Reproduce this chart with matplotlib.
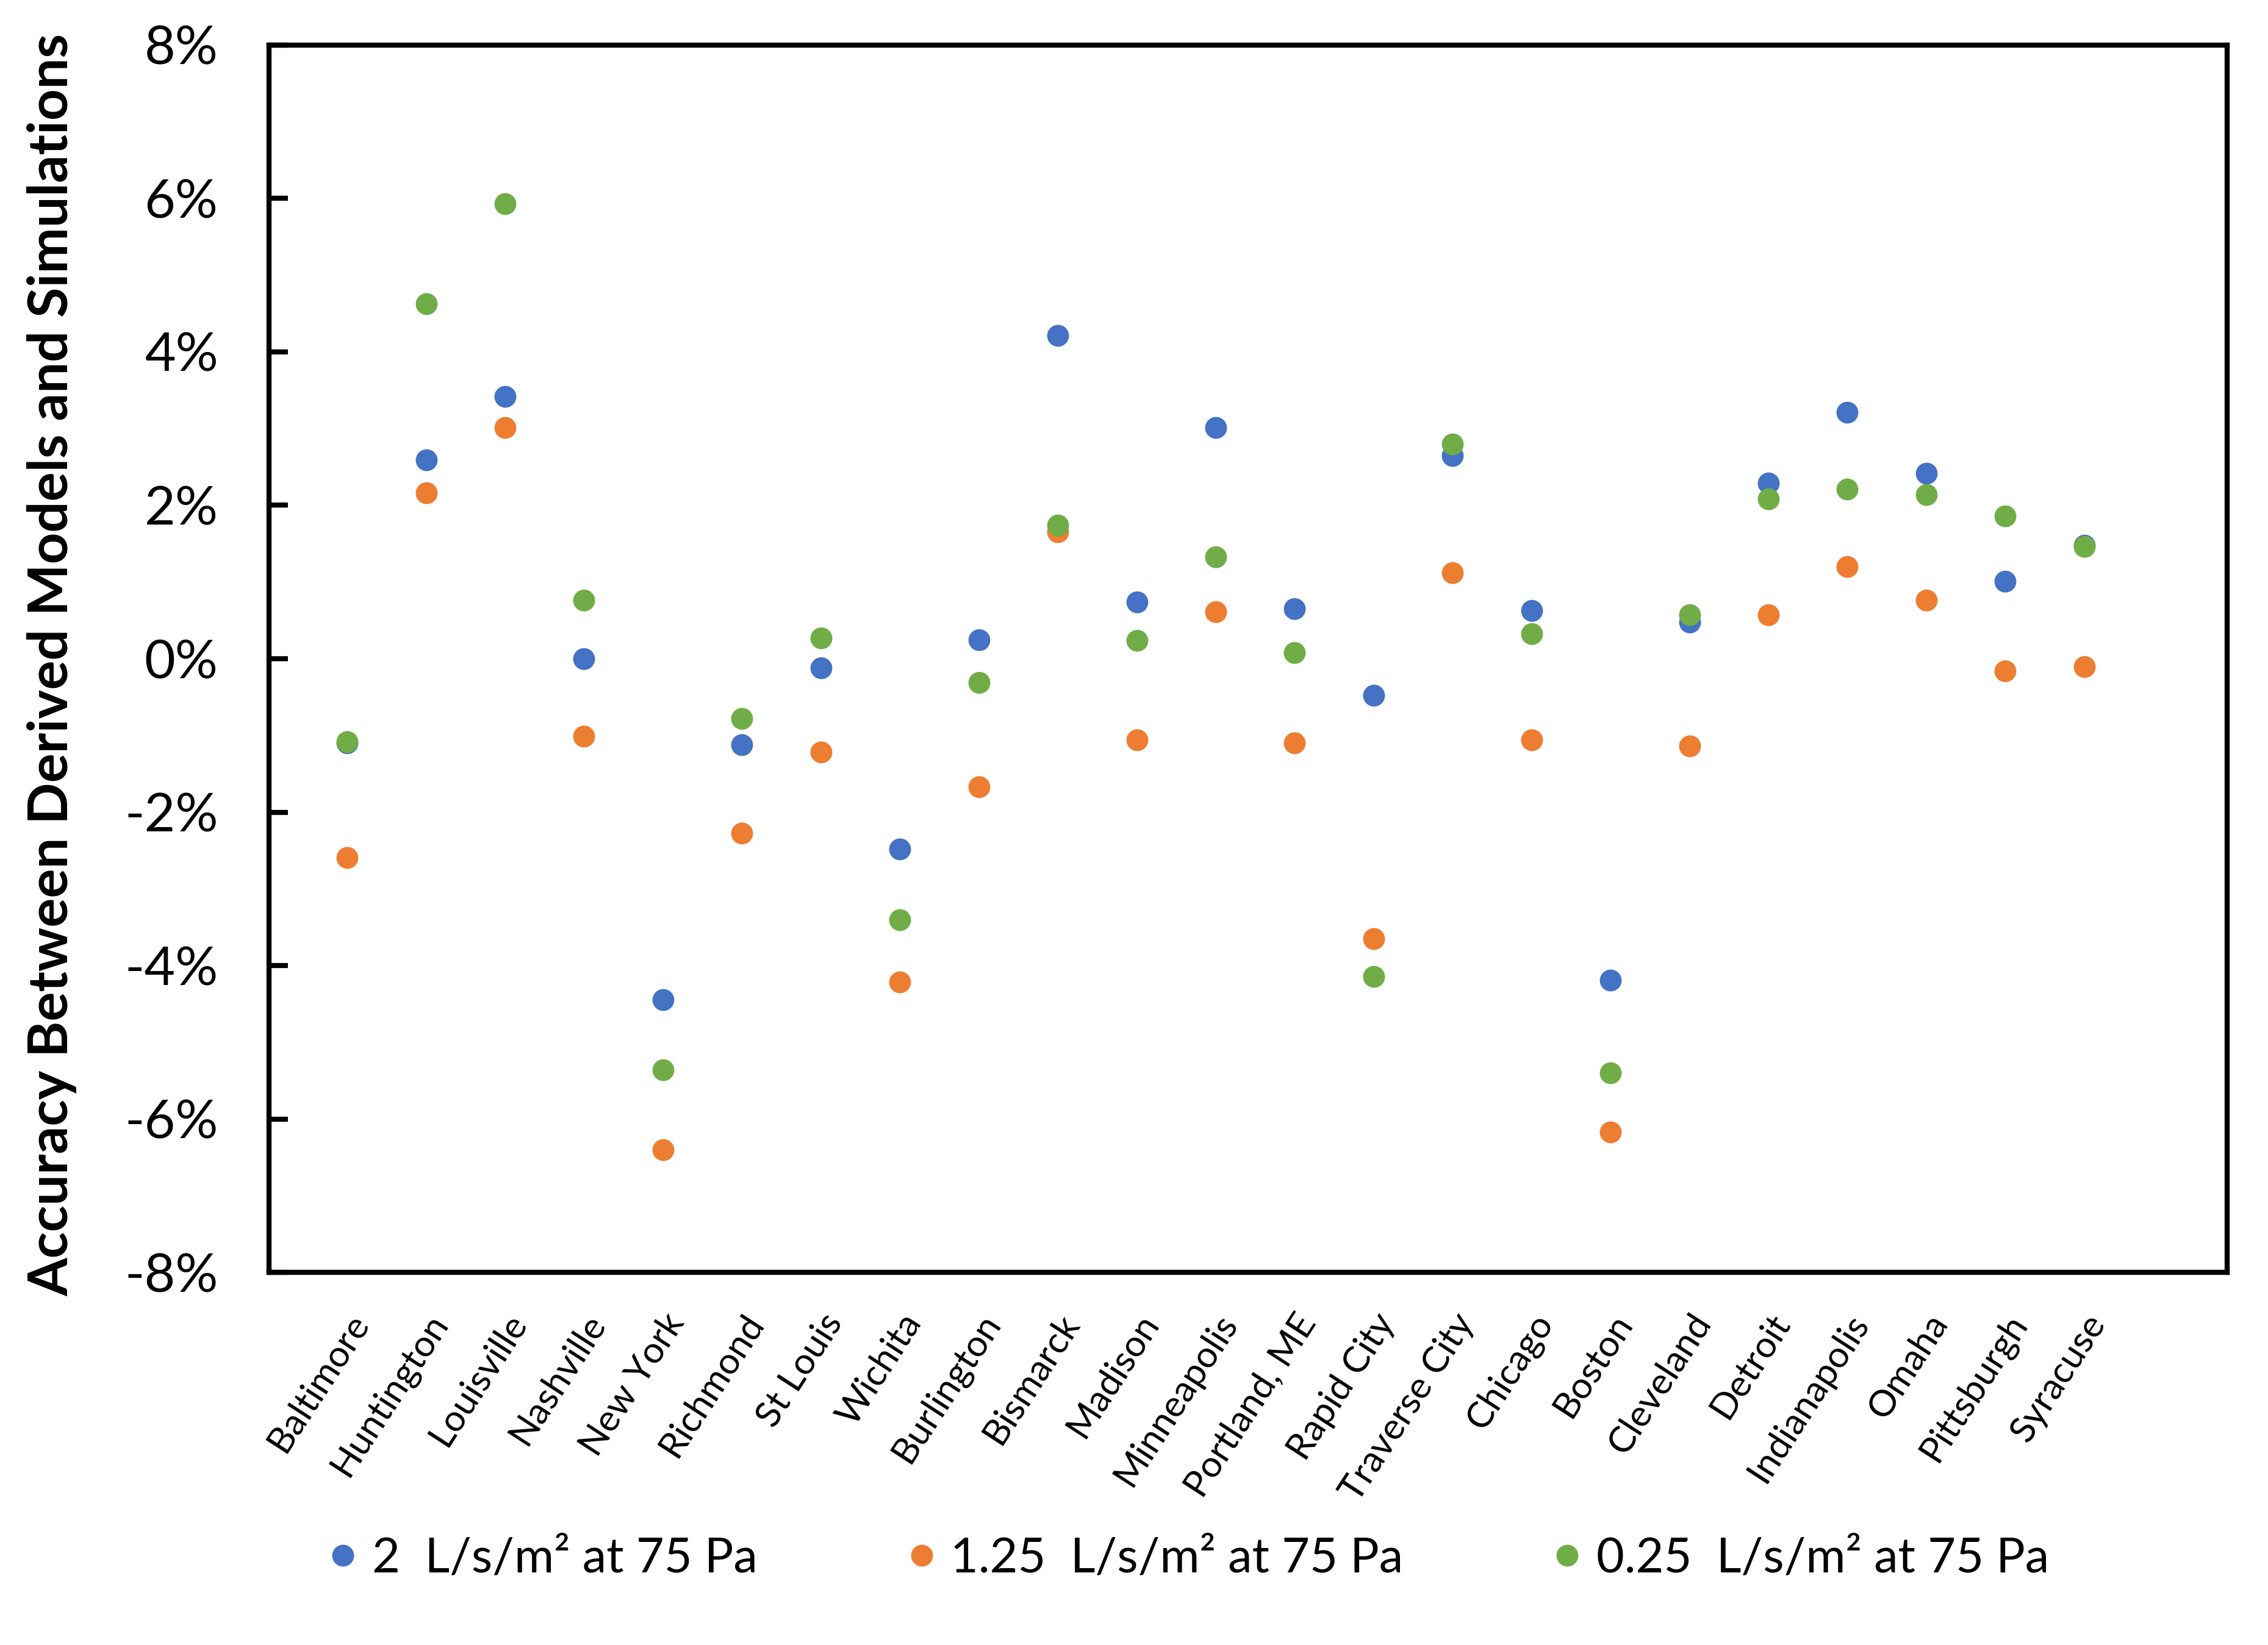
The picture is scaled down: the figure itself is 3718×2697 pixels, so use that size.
import numpy as np
import matplotlib
matplotlib.use("Agg")
import matplotlib.pyplot as plt
from matplotlib.ticker import FuncFormatter

plt.rcParams['font.family'] = ['Lato', 'DejaVu Sans']

cities = ['Baltimore', 'Huntington', 'Louisville', 'Nashville', 'New York', 'Richmond',
          'St Louis', 'Wichita', 'Burlington', 'Bismarck', 'Madison', 'Minneapolis',
          'Portland, ME', 'Rapid City', 'Traverse City', 'Chicago', 'Boston', 'Cleveland',
          'Detroit', 'Indianapolis', 'Omaha', 'Pittsburgh', 'Syracuse']

# accuracy in %
acc_2 = [-1.10, 2.59, 3.42, 0.00, -4.44, -1.12, -0.12, -2.48, 0.25, 4.21, 0.74, 3.01,
         0.65, -0.48, 2.65, 0.63, -4.19, 0.48, 2.29, 3.21, 2.42, 1.01, 1.48]
acc_125 = [-2.59, 2.16, 3.01, -1.01, -6.40, -2.27, -1.22, -4.21, -1.67, 1.65, -1.06, 0.61,
           -1.10, -3.65, 1.12, -1.06, -6.17, -1.14, 0.57, 1.20, 0.76, -0.16, -0.10]
acc_025 = [-1.08, 4.63, 5.93, 0.76, -5.36, -0.78, 0.27, -3.40, -0.31, 1.74, 0.24, 1.33,
           0.08, -4.14, 2.80, 0.33, -5.40, 0.57, 2.08, 2.21, 2.14, 1.86, 1.46]

labels = ['2  L/s/m\u00b2 at 75 Pa', '1.25  L/s/m\u00b2 at 75 Pa', '0.25  L/s/m\u00b2 at 75 Pa']
colors = ['#4472C4', '#ED7D31', '#70AD47']

fig = plt.figure(figsize=(3718/300, 2697/300), dpi=300)
ax = fig.add_axes([0.1186, 0.2264, 0.982-0.1186, 0.9727-0.2264])

x = np.arange(1, len(cities)+1)
for vals, lab, col in zip([acc_2, acc_125, acc_025], labels, colors):
    ax.plot(x, np.array(vals)/100, 'o', color=col, markersize=7.6, label=lab, linestyle='none')

ax.set_ylim(-0.08, 0.08)
ax.set_xlim(0.01, 24.81)
ax.set_yticks(np.arange(-0.08, 0.0801, 0.02))
ax.yaxis.set_major_formatter(FuncFormatter(lambda v, p: '{:.0f}%'.format(v*100)))
ax.tick_params(axis='y', direction='in', length=7.5, width=2, labelsize=21, pad=20)
ax.set_xticks(x)
ax.set_xticklabels(cities, rotation=57, ha='right', rotation_mode='anchor', fontsize=14.5)
ax.tick_params(axis='x', length=0, pad=14)
for s in ax.spines.values():
    s.set_linewidth(2)

ax.set_ylabel('Accuracy Between Derived Models and Simulations', fontsize=21.6,
              fontweight='bold')
ax.yaxis.set_label_coords(-0.098, 0.495)

fig.legend(loc='center', bbox_to_anchor=(0.522, 1-1078/1137.5), ncol=3, frameon=False,
           fontsize=19, handletextpad=0.1, columnspacing=2.9, markerscale=1.0,
           handlelength=1.0)

fig.savefig('out.png', dpi=300)
